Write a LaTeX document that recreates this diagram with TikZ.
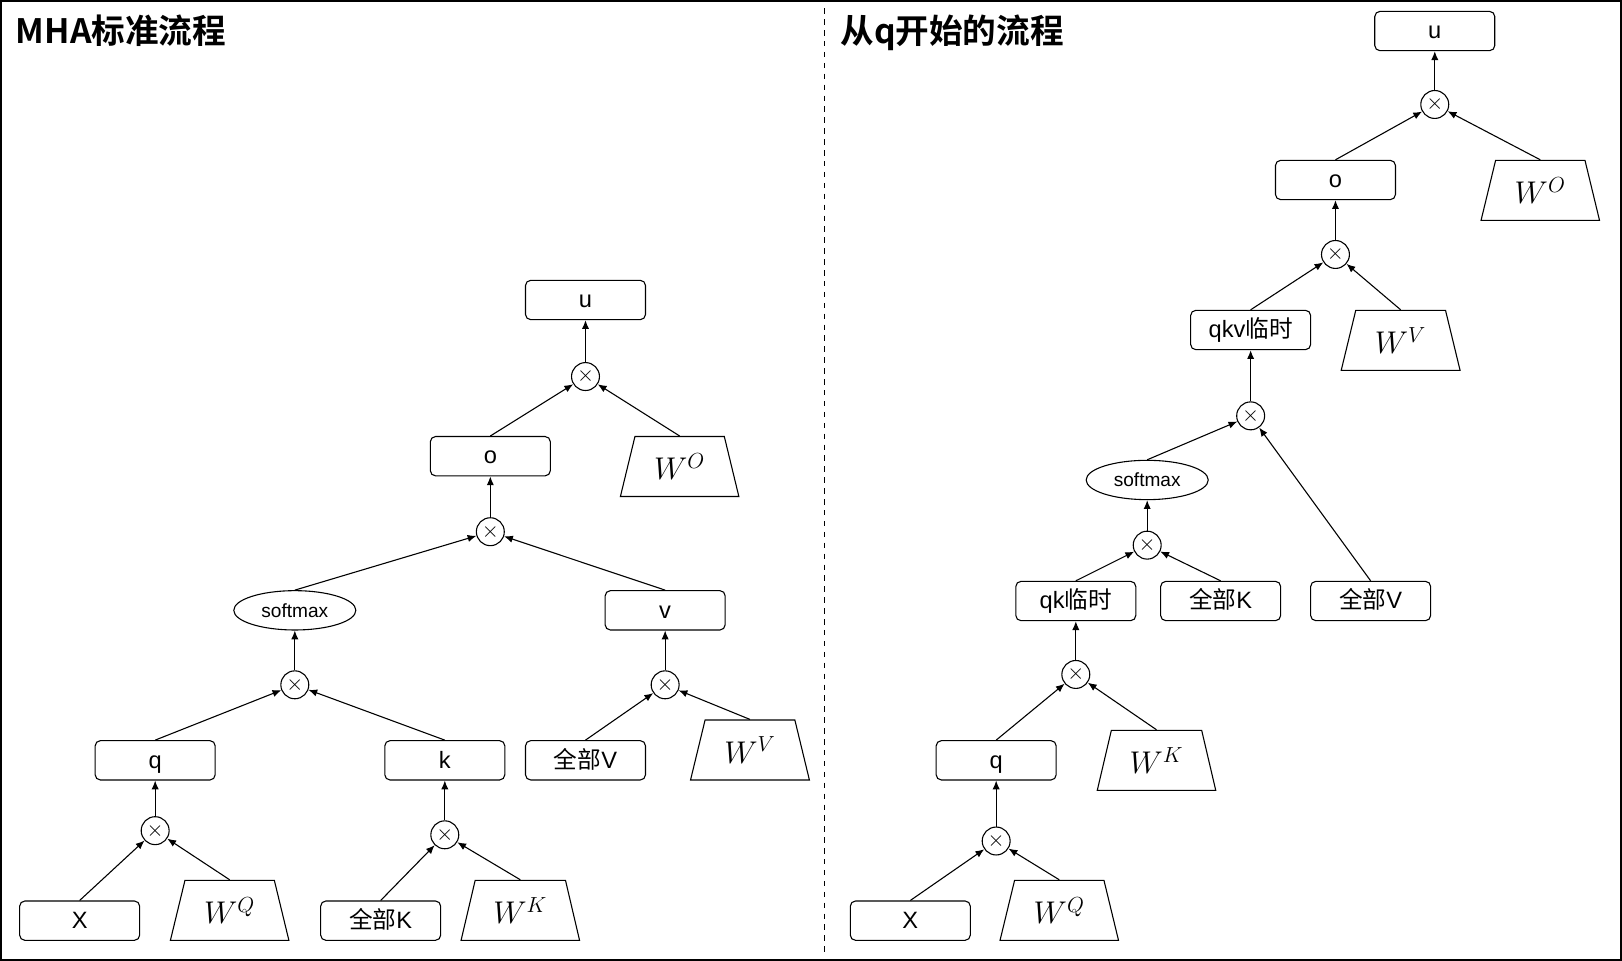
\documentclass[tikz,border=0pt]{standalone}
\usepackage{fontspec}
\setmainfont{Liberation Sans}
\newfontfamily\cjk{Noto Sans CJK SC}[BoldFont={Noto Sans CJK SC Bold}]
\usetikzlibrary{shapes.geometric,arrows.meta}

\begin{document}
\begin{tikzpicture}[x=0.2mm, y=-0.2mm, line width=0.6pt,
	box/.style={draw, rounded corners=1mm, minimum width=23.2mm, minimum height=7.6mm, text height=0.95em, text depth=0.1em, font=\fontsize{13}{15}\selectfont},
	mul/.style={draw, circle, minimum size=5.4mm, inner sep=0pt, font=\large},
	wmat/.style={draw, trapezium, trapezium left angle=75, trapezium right angle=75, trapezium stretches=true, minimum width=23mm, minimum height=11.6mm, font=\fontsize{17}{20}\selectfont},
	smax/.style={draw, ellipse, minimum width=23.6mm, minimum height=7.6mm, inner sep=0pt, font=\fontsize{10.5}{12}\selectfont},
	flow/.style={-{Latex[length=1.7mm, width=1.4mm]}},
	title/.style={anchor=base west, font=\cjk\bfseries\fontsize{18.5}{22}\selectfont}]
	\useasboundingbox (0,0) rectangle (1568,929);
	\draw[line width=1pt] (1,1) rectangle (1567,928);
	\draw[dashed] (797,8) -- (797,921);
	% left: standard MHA
	\node[title] (t1) at (9,42) {MHA标准流程};
	\node[box] (u1) at (566,290) {u};
	\node[mul] (m1) at (566,364) {$\times$};
	\node[box] (o1) at (474,441) {o};
	\node[wmat] (wo1) at (657,451) {$W^{O}$};
	\node[mul] (m2) at (474,514) {$\times$};
	\node[smax] (s1) at (285,590) {softmax};
	\node[box] (v1) at (643,590) {v};
	\node[mul] (m3) at (285,662) {$\times$};
	\node[mul] (m4) at (643,662) {$\times$};
	\node[box] (q1) at (150,735) {q};
	\node[box] (k1) at (430,735) {k};
	\node[box] (av1) at (566,735) {{\cjk 全部}V};
	\node[wmat] (wv1) at (725,725) {$W^{V}$};
	\node[mul] (m5) at (150,803) {$\times$};
	\node[mul] (m6) at (430,807) {$\times$};
	\node[box] (x1) at (77,890) {X};
	\node[wmat] (wq1) at (222,880) {$W^{Q}$};
	\node[box] (ak1) at (368,890) {{\cjk 全部}K};
	\node[wmat] (wk1) at (503,880) {$W^{K}$};
	\foreach \a/\b in {m1/u1, o1.north/m1, wo1.north/m1, m2/o1, s1.north/m2, v1.north/m2,
		m3/s1, m4/v1, q1.north/m3, k1.north/m3, av1.north/m4, wv1.north/m4,
		m5/q1, m6/k1, x1.north/m5, wq1.north/m5, ak1.north/m6, wk1.north/m6}
		\draw[flow] (\a) -- (\b);
	% right: starting from q
	\node[title] (t2) at (806,42) {从q开始的流程};
	\node[box] (u2) at (1387,30) {u};
	\node[mul] (n1) at (1387,101) {$\times$};
	\node[box] (o2) at (1291,174) {o};
	\node[wmat] (wo2) at (1489,184) {$W^{O}$};
	\node[mul] (n2) at (1291,246) {$\times$};
	\node[box] (qkv) at (1209,319) {qkv{\cjk 临时}};
	\node[wmat] (wv2) at (1354,329) {$W^{V}$};
	\node[mul] (n3) at (1209,402) {$\times$};
	\node[smax] (s2) at (1109,464) {softmax};
	\node[mul] (n4) at (1109,527) {$\times$};
	\node[box] (qk) at (1040,581) {qk{\cjk 临时}};
	\node[box] (ak2) at (1180,581) {{\cjk 全部}K};
	\node[box] (av2) at (1325,581) {{\cjk 全部}V};
	\node[mul] (n5) at (1040,652) {$\times$};
	\node[box] (q2) at (963,735) {q};
	\node[wmat] (wk2) at (1118,735) {$W^{K}$};
	\node[mul] (n6) at (963,813) {$\times$};
	\node[box] (x2) at (880,890) {X};
	\node[wmat] (wq2) at (1024,880) {$W^{Q}$};
	\foreach \a/\b in {n1/u2, o2.north/n1, wo2.north/n1, n2/o2, qkv.north/n2, wv2.north/n2,
		n3/qkv, s2.north/n3, av2.north/n3, n4/s2, qk.north/n4, ak2.north/n4,
		n5/qk, q2.north/n5, wk2.north/n5, n6/q2, x2.north/n6, wq2.north/n6}
		\draw[flow] (\a) -- (\b);
\end{tikzpicture}
\end{document}
